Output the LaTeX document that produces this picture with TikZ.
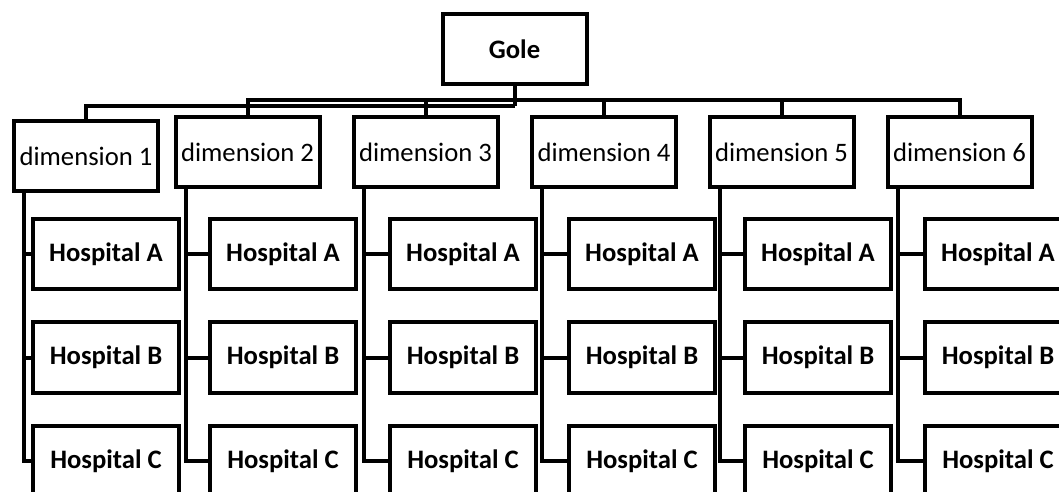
\documentclass[tikz,border=0pt]{standalone}
\usepackage{fontspec}
\setmainfont{Carlito}
\tikzset{
  golebox/.style={rectangle, draw, minimum width=108pt, minimum height=52pt, font=\fontsize{20}{24}\selectfont\bfseries},
  dimbox/.style={rectangle, draw, minimum width=108pt, minimum height=53pt, inner sep=1pt, font=\fontsize{20}{24}\selectfont},
  hospbox/.style={rectangle, draw, minimum width=110pt, minimum height=53pt, font=\fontsize{20}{24}\selectfont\bfseries},
}
\begin{document}
\begin{tikzpicture}[x=0.75pt, y=-0.75pt, line width=3pt]
  \clip (0,0) rectangle (1059,492);

  \node (gole) [golebox] at (514.5, 49) {Gole};

  \foreach \i/\dx/\dy/\hx in {1/86/156/106, 2/247.5/152/283, 3/425.5/152/463,
                              4/604/152/642, 5/781.5/152/818, 6/959.5/152/998} {
    \node (dim\i) [dimbox] at (\dx, \dy) {dimension \i};
    \node (hospA\i) [hospbox] at (\hx, 254) {Hospital A};
    \node (hospB\i) [hospbox] at (\hx, 357.5) {Hospital B};
    \node (hospC\i) [hospbox] at (\hx, 461) {Hospital C};
    \coordinate (trunk\i) at ([xshift=9pt]dim\i.south west);

    \draw (trunk\i) |- (hospC\i.west);
    \draw (hospA\i.west) -- (trunk\i |- hospA\i.west);
    \draw (hospB\i.west) -- (trunk\i |- hospB\i.west);
  }

  % goal to dimensions
  \draw (gole.south) -- ++(0, 20) coordinate (hub);
  \draw (dim1.north) |- (hub);
  \coordinate (bus) at (0, 100);
  \draw (dim2.north) |- (bus -| dim6.north) -- (dim6.north);
  \foreach \i in {3,4,5}
    \draw (dim\i.north) -- (dim\i.north |- bus);
\end{tikzpicture}
\end{document}
